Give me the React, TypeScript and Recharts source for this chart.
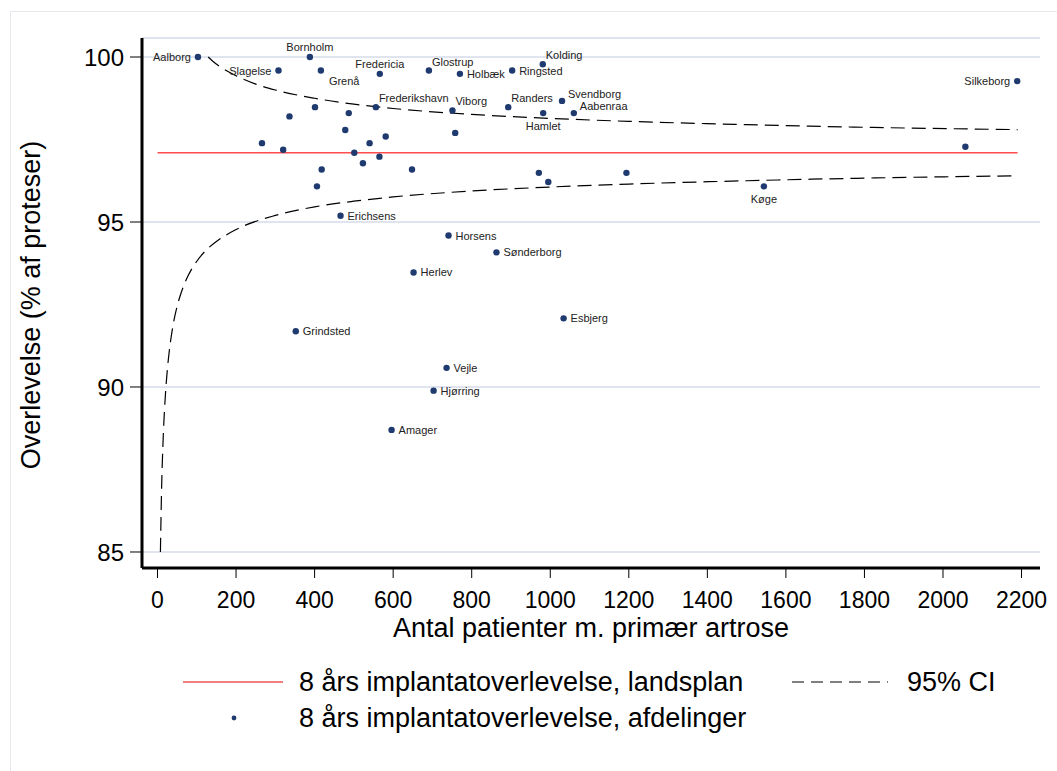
import React from "react"
import { CartesianGrid, ComposedChart, Line, Scatter, XAxis, YAxis } from "recharts"

const FONT = '"Liberation Sans", Arial, Helvetica, sans-serif'
const DOT = "#1f3a6e"
const RED = "#ff4d4d"

// afdelinger: navn, antal patienter, 8 års overlevelse (%)
const hospitals = [
  "Aalborg", "Bornholm", "Slagelse", "Grenå", "Fredericia", "Glostrup", "Holbæk", "Ringsted", "Kolding", "Silkeborg",
  "Frederikshavn", "Viborg", "Randers", "Svendborg", "Aabenraa", "Hamlet", "", "", "", "",
  "", "", "", "", "", "", "", "", "", "",
  "", "", "", "", "Køge", "", "Erichsens", "Horsens", "Sønderborg", "Herlev",
  "Esbjerg", "Grindsted", "Vejle", "Hjørring", "Amager",
]
const patients = [
  103, 388, 308, 416, 566, 691, 770, 903, 981, 2189,
  556, 751, 893, 1030, 1060, 982, 758, 487, 401, 336,
  478, 581, 540, 266, 320, 501, 565, 523, 648, 418,
  406, 971, 995, 1194, 1544, 2057, 466, 741, 863, 652,
  1034, 352, 736, 703, 596,
]
const survival = [
  100.0, 100.0, 99.59, 99.59, 99.49, 99.59, 99.49, 99.59, 99.78, 99.27,
  98.48, 98.38, 98.48, 98.67, 98.3, 98.3, 97.7, 98.3, 98.48, 98.2,
  97.79, 97.59, 97.39, 97.39, 97.19, 97.1, 96.98, 96.78, 96.59, 96.59,
  96.08, 96.49, 96.21, 96.49, 96.08, 97.28, 95.19, 94.59, 94.08, 93.47,
  92.08, 91.69, 90.58, 89.89, 88.7,
]

// landsplan
const nationalN = [0, 2190]
const nationalPct = [97.1, 97.1]

// 95% CI, øvre og nedre grænse
const ciUpperN = [129, 140, 175, 200, 250, 300, 400, 500, 600, 800, 1000, 1200, 1500, 1800, 2190]
const ciUpperPct = [100.0, 99.88, 99.59, 99.43, 99.18, 99.0, 98.75, 98.57, 98.44, 98.26, 98.14, 98.05, 97.95, 97.87, 97.8]
const ciLowerN = [7.4, 10, 15, 20, 25, 30, 40, 50, 60, 75, 100, 125, 150, 200, 300, 400, 500, 600, 800, 1000, 1200, 1500, 1800, 2190]
const ciLowerPct = [85.0, 86.7, 88.61, 89.74, 90.52, 91.09, 91.9, 92.45, 92.85, 93.3, 93.81, 94.16, 94.41, 94.77, 95.2, 95.46, 95.63, 95.76, 95.94, 96.06, 96.15, 96.25, 96.33, 96.4]

const xTicks = [0, 200, 400, 600, 800, 1000, 1200, 1400, 1600, 1800, 2000, 2200]
const yTicks = [85, 90, 95, 100]

const points = hospitals.map((name, i) => ({ name, n: patients[i], v: survival[i] }))
const national = nationalN.map((n, i) => ({ n, v: nationalPct[i] }))
const ciUpper = ciUpperN.map((n, i) => ({ n, v: ciUpperPct[i] }))
const ciLower = ciLowerN.map((n, i) => ({ n, v: ciLowerPct[i] }))

type Spot = { dx: number; dy: number; anchor: "start" | "middle" | "end" }
const spots: Record<string, Spot> = {
  left: { dx: -7, dy: 0, anchor: "end" },
  right: { dx: 7, dy: 0, anchor: "start" },
  above: { dx: 0, dy: -10, anchor: "middle" },
  below: { dx: 0, dy: 13, anchor: "middle" },
  oneOclock: { dx: 3, dy: -9, anchor: "start" },
  twoOclock: { dx: 6, dy: -7, anchor: "start" },
  belowRight: { dx: 8, dy: 10, anchor: "start" },
}
const labelSpot: Record<string, string> = {
  Aalborg: "left", Bornholm: "above", Slagelse: "left", "Grenå": "belowRight", Fredericia: "above",
  Glostrup: "oneOclock", Kolding: "oneOclock", Silkeborg: "left", Frederikshavn: "oneOclock",
  Viborg: "oneOclock", Randers: "oneOclock", Svendborg: "twoOclock", Aabenraa: "twoOclock",
  Hamlet: "below", "Køge": "below",
}

const HospitalDot = (props: any) => {
  const { cx, cy, payload } = props
  const s = spots[labelSpot[payload.name] ?? "right"]
  return (
    <g>
      <circle cx={cx} cy={cy} r={3.2} fill={DOT} />
      {payload.name ? (
        <text x={cx + s.dx} y={cy + s.dy} textAnchor={s.anchor} dominantBaseline="central"
          fontSize={11} fontFamily={FONT} fill="#222">{payload.name}</text>
      ) : null}
    </g>
  )
}

export default function App() {
  return (
    <div style={{ position: "absolute", left: 0, top: 0, width: 1057, height: 771, background: "#fff" }}>
      <ComposedChart width={1057} height={771} margin={{ top: 38, right: 17, bottom: 143, left: 62 }}>
        <CartesianGrid horizontal vertical={false} stroke="#dfe4ef" strokeWidth={2} />
        <XAxis type="number" dataKey="n" domain={[-39.5, 2247]} ticks={xTicks} allowDataOverflow
          height={60} tickSize={10} tickMargin={14} interval={0}
          axisLine={{ stroke: "#000", strokeWidth: 3 }} tickLine={{ stroke: "#000" }}
          tick={{ fontSize: 23, fill: "#000", fontFamily: FONT }} />
        <YAxis type="number" dataKey="v" domain={[84.515, 100.576]} ticks={yTicks} allowDataOverflow
          width={80} tickSize={12} tickMargin={6} interval={0}
          axisLine={{ stroke: "#000", strokeWidth: 3 }} tickLine={{ stroke: "#000" }}
          tick={{ fontSize: 24, fill: "#000", fontFamily: FONT }} />
        <Line data={national} dataKey="v" type="linear" stroke={RED} strokeWidth={1.5} dot={false} isAnimationActive={false} />
        <Line data={ciUpper} dataKey="v" type="monotone" stroke="#000" strokeWidth={1.2} strokeDasharray="14 7" dot={false} isAnimationActive={false} />
        <Line data={ciLower} dataKey="v" type="monotone" stroke="#000" strokeWidth={1.2} strokeDasharray="14 7" dot={false} isAnimationActive={false} />
        <Scatter data={points} dataKey="v" shape={HospitalDot} isAnimationActive={false} />
      </ComposedChart>

      <svg width={1057} height={771} style={{ position: "absolute", left: 0, top: 0, pointerEvents: "none" }}
        fontFamily={FONT}>
        <rect x={10.5} y={11.5} width={1060} height={770} fill="none" stroke="#e6e8ee" />
        <text transform="translate(31,305) rotate(-90)" textAnchor="middle" dominantBaseline="central" fontSize={27}>
          Overlevelse (% af proteser)
        </text>
        <text x={591} y={628} textAnchor="middle" dominantBaseline="central" fontSize={27}>
          Antal patienter m. primær artrose
        </text>
        <line x1={183} x2={283} y1={682} y2={682} stroke="#e00000" strokeWidth={1} />
        <text x={299} y={682} dominantBaseline="central" fontSize={27}>8 års implantatoverlevelse, landsplan</text>
        <line x1={792} x2={888} y1={682} y2={682} stroke="#000" strokeWidth={1} strokeDasharray="12 7" />
        <text x={907} y={682} dominantBaseline="central" fontSize={27}>95% CI</text>
        <circle cx={234} cy={718} r={2.4} fill={DOT} />
        <text x={299} y={718} dominantBaseline="central" fontSize={27}>8 års implantatoverlevelse, afdelinger</text>
      </svg>
    </div>
  )
}
